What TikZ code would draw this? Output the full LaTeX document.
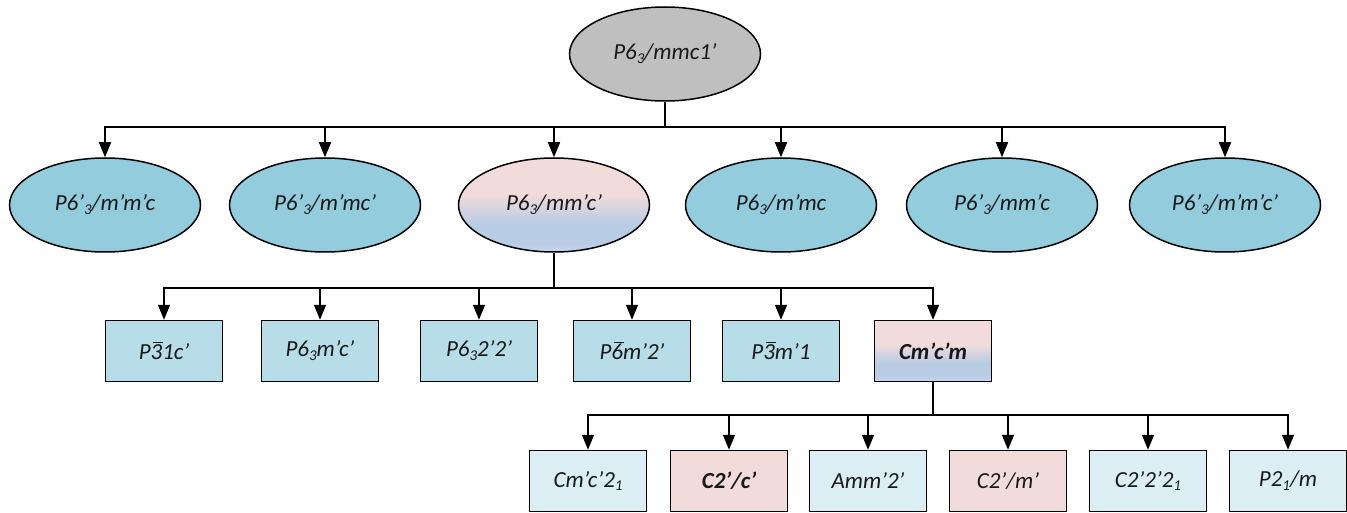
\documentclass[tikz,border=0pt]{standalone}
\usepackage{fontspec}
\setmainfont{Carlito}
\usetikzlibrary{shapes.geometric,arrows.meta}
\definecolor{greyfill}{HTML}{BFBFBF}
\definecolor{ellblue}{HTML}{93CDDD}
\definecolor{boxblue}{HTML}{B7DEE8}
\definecolor{lightblue}{HTML}{DAEEF3}
\definecolor{pinkf}{HTML}{F2DCDB}
\definecolor{gradblue}{HTML}{B8CCE4}
\definecolor{gradblue2}{HTML}{C8D6EA}
\pgfdeclareverticalshading{pinkblue}{100bp}{color(0bp)=(gradblue2); color(25bp)=(gradblue2); color(30bp)=(gradblue); color(40bp)=(gradblue); color(56bp)=(pinkf); color(100bp)=(pinkf)}
\newcommand{\sbs}[1]{\raisebox{-0.35ex}{\fontsize{15}{15}\selectfont #1}}
\newcommand{\ovb}[1]{\leavevmode\setbox0\hbox{#1}\rlap{\hspace{0.12em}\raisebox{0.70em}{\rule{0.85\wd0}{1.1pt}}}\box0\relax}
\tikzset{
  lbl/.style={font=\fontsize{23}{27}\selectfont\itshape, text=black!90},
  ell/.style={lbl, ellipse, draw, line width=1.5pt, minimum width=191pt, minimum height=94pt, inner sep=0pt},
  rbox/.style={lbl, rectangle, draw, line width=1.5pt, minimum width=117pt, minimum height=61pt, inner sep=0pt},
  conn/.style={line width=1.6pt},
  arr/.style={line width=1.6pt, -{Triangle[length=15pt,width=12pt]}},
}
\begin{document}
\begin{tikzpicture}[x=1pt,y=-1pt]
\useasboundingbox (0,0) rectangle (1347,513);
% top
\node[ell, fill=greyfill] (top) at (665,54) {P6\sbs{3}/mmc1'};
% row 2
\node[ell, fill=ellblue] (e1) at (105,205) {P6'\sbs{3}/m'm'c};
\node[ell, fill=ellblue] (e2) at (325,205) {P6'\sbs{3}/m'mc'};
\node[ell, shading=pinkblue] (e3) at (554,205) {P6\sbs{3}/mm'c'};
\node[ell, fill=ellblue] (e4) at (781,205) {P6\sbs{3}/m'mc};
\node[ell, fill=ellblue] (e5) at (1002,205) {P6'\sbs{3}/mm'c};
\node[ell, fill=ellblue] (e6) at (1225,205) {P6'\sbs{3}/m'm'c'};
% row 3
\node[rbox, fill=boxblue] (r1) at (164,351) {P\ovb{3}1c'};
\node[rbox, fill=boxblue] (r2) at (320,351) {P6\sbs{3}m'c'};
\node[rbox, fill=boxblue] (r3) at (479,351) {P6\sbs{3}2'2'};
\node[rbox, fill=boxblue] (r4) at (632,351) {P\ovb{6}m'2'};
\node[rbox, fill=boxblue] (r5) at (781,351) {P\ovb{3}m'1};
\node[rbox, shading=pinkblue, font=\fontsize{23}{27}\selectfont\itshape\bfseries] (r6) at (933,351) {Cm'c'm};
% row 4
\node[rbox, fill=lightblue] (s1) at (588,481) {Cm'c'2\sbs{1}};
\node[rbox, fill=pinkf, font=\fontsize{23}{27}\selectfont\itshape\bfseries] (s2) at (729,481) {C2'/c'};
\node[rbox, fill=lightblue] (s3) at (868,481) {Amm'2'};
\node[rbox, fill=pinkf] (s4) at (1008,481) {C2'/m'};
\node[rbox, fill=lightblue] (s5) at (1148,481) {C2'2'2\sbs{1}};
\node[rbox, fill=lightblue] (s6) at (1288,481) {P2\sbs{1}/m};
% connectors
\coordinate (b1) at (665,127);
\coordinate (b2) at (554,288);
\coordinate (b3) at (933,415);
\draw[conn] (top.south) -- (b1);
\foreach \n in {e1,e2,e3,e4,e5,e6} \draw[arr] (b1) -| (\n.north);
\draw[conn] (e3.south) -- (b2);
\foreach \n in {r1,r2,r3,r4,r5,r6} \draw[arr] (b2) -| (\n.north);
\draw[conn] (r6.south) -- (b3);
\foreach \n in {s1,s2,s3,s4,s5,s6} \draw[arr] (b3) -| (\n.north);
\end{tikzpicture}
\end{document}
